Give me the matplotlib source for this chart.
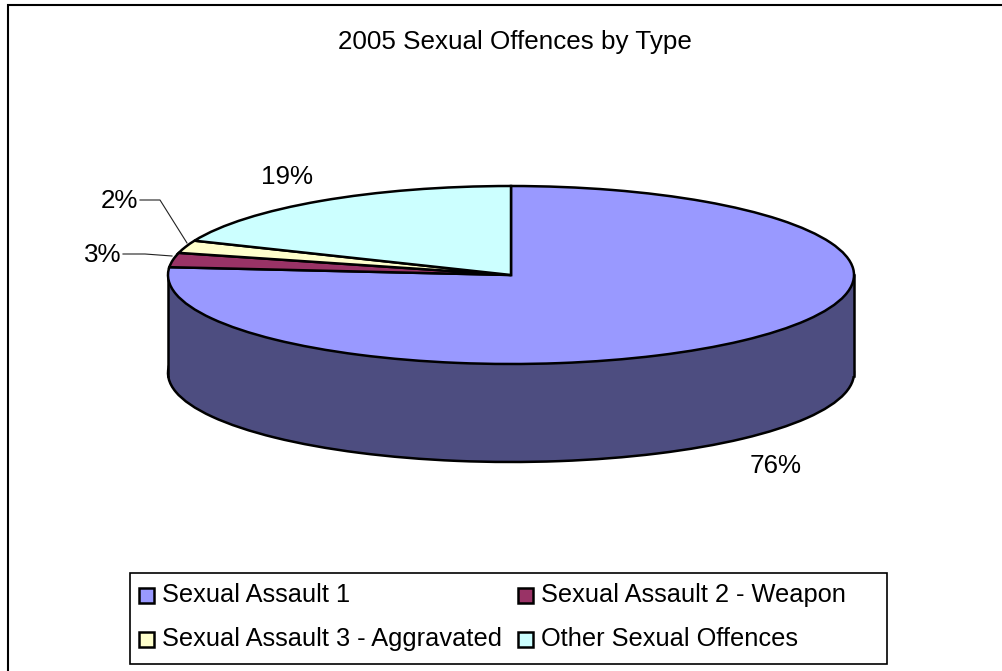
import matplotlib
matplotlib.use("Agg")
import matplotlib.pyplot as plt
from matplotlib.patches import Rectangle

plt.rcParams['font.family'] = ['Liberation Sans', 'DejaVu Sans']

W, H = 1002, 671

title = "2005 Sexual Offences by Type"
categories = ["Sexual Assault 1", "Sexual Assault 2 - Weapon",
              "Sexual Assault 3 - Aggravated", "Other Sexual Offences"]
values = [76.4, 2.6, 2.3, 18.7]
colors = ["#9999ff", "#993366", "#ffffcc", "#ccffff"]
side_colors = ["#4d4d80", "#4d1a33", "#808066", "#668080"]

FS = 18.7
LEG_FS = 18.3


def px_axes(fig, x0, y0, x1, y1):
    # axes from pixel box, y measured from top of the image
    return fig.add_axes([x0 / W, 1 - y1 / H, (x1 - x0) / W, (y1 - y0) / H])


def plot_chart():
    fig = plt.figure(figsize=(W / 100, H / 100), dpi=100)

    # background layer in pixel coords
    bg = fig.add_axes([0, 0, 1, 1], zorder=0)
    bg.set_xlim(0, W)
    bg.set_ylim(H, 0)
    bg.axis("off")
    bg.add_patch(Rectangle((8, 5), 1100, 800, fc="white", ec="black", lw=1.5))
    bg.text(515, 41.5, title, fontsize=FS, ha="center", va="center")

    # lower disc + wall of the pie
    ax_low = px_axes(fig, 168, 284, 854, 462)
    ax_low.set_zorder(1)
    ax_low.pie(values, colors=side_colors, startangle=90, counterclock=False,
               wedgeprops=dict(edgecolor="black", linewidth=1.8))
    ax_low.set_aspect("auto")
    ax_low.set_xlim(-1, 1)
    ax_low.set_ylim(-1, 1)
    # wall hides the radial edges of the lower disc
    ax_low.add_patch(Rectangle((-1, -0.03), 2, 1.13, fc=side_colors[0], ec="none",
                               zorder=5, clip_on=False))
    ax_low.plot([-1, -1], [-0.03, 1.1], color="black", lw=1.8, zorder=6, clip_on=False)
    ax_low.plot([1, 1], [-0.03, 1.1], color="black", lw=1.8, zorder=6, clip_on=False)

    # top face
    ax_top = px_axes(fig, 168, 186, 854, 364)
    ax_top.set_zorder(2)
    ax_top.pie(values, colors=colors, startangle=90, counterclock=False,
               wedgeprops=dict(edgecolor="black", linewidth=1.8))
    ax_top.set_aspect("auto")
    ax_top.set_xlim(-1, 1)
    ax_top.set_ylim(-1, 1)

    # labels in pixel coords, above the pie
    fg = fig.add_axes([0, 0, 1, 1], zorder=3)
    fg.set_xlim(0, W)
    fg.set_ylim(H, 0)
    fg.axis("off")
    fg.patch.set_alpha(0)
    fg.text(776, 466, "%d%%" % round(values[0]), fontsize=FS, ha="center", va="center")
    fg.text(103, 255, "%d%%" % round(values[1]), fontsize=FS, ha="center", va="center")
    fg.text(119, 201, "%d%%" % round(values[2]), fontsize=FS, ha="center", va="center")
    fg.text(287, 176.5, "%d%%" % round(values[3]), fontsize=FS, ha="center", va="center")
    fg.plot([123, 145, 172], [254, 254, 256], color="#222222", lw=0.8)
    fg.plot([140, 160, 187], [200, 200, 243], color="#222222", lw=0.8)

    # legend box, laid out by hand to sit where the reference has it
    fg.add_patch(Rectangle((130.5, 572.5), 757, 91, fc="white", ec="black", lw=1.2))
    for i, (name, col) in enumerate(zip(categories, colors)):
        x = [139, 518][i % 2]
        y = [588, 632][i // 2]
        fg.add_patch(Rectangle((x, y), 15, 15, fc=col, ec="black", lw=1.8))
        fg.text(x + 23.5, y + 7, name, fontsize=LEG_FS, ha="left", va="center")

    fig.savefig("out.png", dpi=100)


def main():
    plot_chart()


if __name__ == "__main__":
    main()
